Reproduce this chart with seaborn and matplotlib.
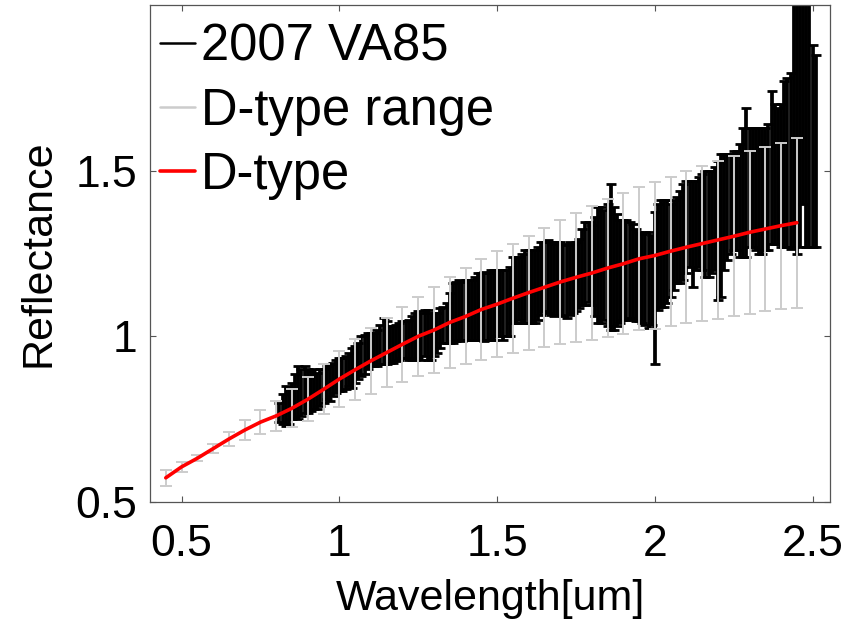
import matplotlib
matplotlib.use("Agg")
import matplotlib.pyplot as plt
from matplotlib.lines import Line2D
import numpy as np
import pandas as pd
import seaborn as sns

# ---------------- data ----------------
dtype_wave = [0.45, 0.50, 0.55, 0.60, 0.65, 0.70, 0.75, 0.80, 0.85, 0.90,
              0.95, 1.00, 1.05, 1.10, 1.15, 1.20, 1.25, 1.30, 1.35, 1.40,
              1.45, 1.50, 1.55, 1.60, 1.65, 1.70, 1.75, 1.80, 1.85, 1.90,
              1.95, 2.00, 2.05, 2.10, 2.15, 2.20, 2.25, 2.30, 2.35, 2.40,
              2.45]
dtype_mean = [0.573, 0.606, 0.632, 0.661, 0.690, 0.717, 0.741, 0.760, 0.783, 0.810,
              0.840, 0.871, 0.899, 0.926, 0.951, 0.976, 1.000, 1.019, 1.042, 1.060,
              1.081, 1.097, 1.115, 1.132, 1.148, 1.164, 1.178, 1.191, 1.206, 1.219,
              1.234, 1.244, 1.257, 1.269, 1.280, 1.291, 1.302, 1.314, 1.324, 1.334,
              1.343]
dtype_range = [0.025, 0.014, 0.009, 0.013, 0.021, 0.030, 0.037, 0.046, 0.057, 0.066,
               0.075, 0.085, 0.092, 0.099, 0.105, 0.114, 0.120, 0.130, 0.137, 0.145,
               0.153, 0.160, 0.165, 0.172, 0.180, 0.187, 0.195, 0.201, 0.208, 0.213,
               0.216, 0.221, 0.225, 0.229, 0.234, 0.239, 0.242, 0.246, 0.248, 0.251,
               0.257]

va85_wave = [0.81, 0.82, 0.83, 0.84, 0.85, 0.86, 0.87, 0.88, 0.89, 0.90,
             0.91, 0.92, 0.93, 0.94, 0.95, 0.96, 0.97, 0.98, 0.99, 1.00,
             1.01, 1.02, 1.03, 1.04, 1.05, 1.06, 1.07, 1.08, 1.09, 1.10,
             1.11, 1.12, 1.13, 1.14, 1.15, 1.16, 1.17, 1.18, 1.19, 1.20,
             1.21, 1.22, 1.23, 1.24, 1.25, 1.26, 1.27, 1.28, 1.29, 1.30,
             1.31, 1.32, 1.33, 1.34, 1.35, 1.36, 1.37, 1.38, 1.39, 1.40,
             1.41, 1.42, 1.43, 1.44, 1.45, 1.46, 1.47, 1.48, 1.49, 1.50,
             1.51, 1.52, 1.53, 1.54, 1.55, 1.56, 1.57, 1.58, 1.59, 1.60,
             1.61, 1.62, 1.63, 1.64, 1.65, 1.66, 1.67, 1.68, 1.69, 1.70,
             1.71, 1.72, 1.73, 1.74, 1.75, 1.76, 1.77, 1.78, 1.79, 1.80,
             1.81, 1.82, 1.83, 1.84, 1.85, 1.86, 1.87, 1.88, 1.89, 1.90,
             1.91, 1.92, 1.93, 1.94, 1.95, 1.96, 1.97, 1.98, 1.99, 2.00,
             2.01, 2.02, 2.03, 2.04, 2.05, 2.06, 2.07, 2.08, 2.09, 2.10,
             2.11, 2.12, 2.13, 2.14, 2.15, 2.16, 2.17, 2.18, 2.19, 2.20,
             2.21, 2.22, 2.23, 2.24, 2.25, 2.26, 2.27, 2.28, 2.29, 2.30,
             2.31, 2.32, 2.33, 2.34, 2.35, 2.36, 2.37, 2.38, 2.39, 2.40,
             2.41, 2.42, 2.43, 2.44, 2.45, 2.46, 2.47, 2.48, 2.49, 2.50,
             2.51]
va85_refl = [0.77, 0.78, 0.79, 0.79, 0.805, 0.82, 0.83, 0.83, 0.84, 0.835,
             0.835, 0.84, 0.835, 0.845, 0.85, 0.86, 0.86, 0.87, 0.88, 0.885,
             0.885, 0.89, 0.90, 0.905, 0.915, 0.925, 0.94, 0.945, 0.955, 0.96,
             0.96, 0.965, 0.975, 0.985, 0.98, 0.975, 0.975, 0.98, 0.985, 0.99,
             0.99, 0.99, 0.995, 1.0, 1.005, 1.0, 1.01, 1.005, 1.0, 1.005,
             1.01, 1.025, 1.035, 1.04, 1.055, 1.07, 1.075, 1.08, 1.075, 1.08,
             1.08, 1.08, 1.085, 1.09, 1.09, 1.09, 1.09, 1.095, 1.095, 1.10,
             1.10, 1.095, 1.10, 1.105, 1.14, 1.14, 1.145, 1.145, 1.15, 1.15,
             1.15, 1.15, 1.16, 1.175, 1.18, 1.18, 1.175, 1.17, 1.175, 1.175,
             1.17, 1.165, 1.175, 1.175, 1.18, 1.19, 1.21, 1.22, 1.225, 1.215,
             1.21, 1.215, 1.215, 1.215, 1.215, 1.24, 1.205, 1.20, 1.195, 1.20,
             1.20, 1.20, 1.195, 1.185, 1.18, 1.175, 1.175, 1.17, 1.17, 1.146,
             1.24, 1.25, 1.25, 1.255, 1.26, 1.275, 1.29, 1.30, 1.315, 1.33,
             1.34, 1.31, 1.335, 1.345, 1.345, 1.34, 1.34, 1.345, 1.355, 1.32,
             1.335, 1.375, 1.39, 1.40, 1.41, 1.41, 1.41, 1.435, 1.465, 1.45,
             1.45, 1.445, 1.44, 1.44, 1.445, 1.45, 1.51, 1.49, 1.485, 1.485,
             1.52, 1.525, 1.53, 1.66, 1.675, 1.66, 1.71, 1.685, 1.66, 1.575,
             1.56]
va85_err = [0.03, 0.045, 0.06, 0.055, 0.055, 0.065, 0.08, 0.07, 0.07, 0.065,
            0.06, 0.06, 0.055, 0.055, 0.05, 0.05, 0.055, 0.05, 0.05, 0.05,
            0.05, 0.05, 0.05, 0.06, 0.055, 0.055, 0.06, 0.06, 0.055, 0.05,
            0.05, 0.055, 0.06, 0.07, 0.065, 0.055, 0.055, 0.055, 0.055, 0.055,
            0.055, 0.06, 0.065, 0.07, 0.07, 0.07, 0.07, 0.075, 0.07, 0.065,
            0.06, 0.06, 0.055, 0.06, 0.075, 0.09, 0.09, 0.09, 0.09, 0.09,
            0.09, 0.09, 0.095, 0.10, 0.10, 0.105, 0.10, 0.105, 0.105, 0.10,
            0.10, 0.105, 0.10, 0.105, 0.10, 0.10, 0.095, 0.105, 0.11, 0.11,
            0.11, 0.11, 0.11, 0.11, 0.105, 0.11, 0.11, 0.11, 0.11, 0.11,
            0.11, 0.11, 0.11, 0.105, 0.105, 0.105, 0.115, 0.125, 0.12, 0.12,
            0.15, 0.175, 0.175, 0.165, 0.185, 0.22, 0.185, 0.17, 0.155, 0.15,
            0.15, 0.145, 0.145, 0.14, 0.135, 0.135, 0.14, 0.145, 0.135, 0.23,
            0.16, 0.16, 0.16, 0.155, 0.14, 0.135, 0.13, 0.14, 0.145, 0.14,
            0.13, 0.16, 0.135, 0.135, 0.145, 0.16, 0.16, 0.155, 0.155, 0.21,
            0.215, 0.175, 0.16, 0.15, 0.15, 0.15, 0.17, 0.195, 0.225, 0.18,
            0.18, 0.185, 0.19, 0.19, 0.185, 0.19, 0.23, 0.21, 0.205, 0.215,
            0.25, 0.255, 0.265, 0.39, 0.425, 0.39, 0.31, 0.415, 0.39, 0.305,
            0.29]

x_ticks = [0.5, 1.0, 1.5, 2.0, 2.5]
x_tick_labels = ["0.5", "1", "1.5", "2", "2.5"]
y_ticks = [0.5, 1.0, 1.5]
y_tick_labels = ["0.5", "1", "1.5"]
legend_labels = ["2007 VA85", "D-type range", "D-type"]

# ---------------- style ----------------
sns.set_theme(style="ticks")
plt.rcParams["font.family"] = ["Liberation Sans", "DejaVu Sans"]
plt.rcParams["text.color"] = "black"
plt.rcParams["axes.labelcolor"] = "black"
plt.rcParams["xtick.labelcolor"] = "black"
plt.rcParams["ytick.labelcolor"] = "black"

GRAY = "#cccccc"
SPINE = "#555555"

fig = plt.figure(figsize=(8.65, 6.21), dpi=100)
ax = fig.add_axes([150 / 865, 1 - 502 / 621, 680 / 865, 497 / 621])

va85 = pd.DataFrame({"wave": va85_wave, "refl": va85_refl, "err": va85_err})
dtype = pd.DataFrame({"wave": dtype_wave, "mean": dtype_mean, "rng": dtype_range})

# asteroid spectrum with error bars
ax.errorbar(va85["wave"], va85["refl"], yerr=va85["err"], fmt="none", ecolor="black",
            elinewidth=2.7, capsize=3.6, capthick=2.0, zorder=2)
# D-type range
ax.errorbar(dtype["wave"], dtype["mean"], yerr=dtype["rng"], fmt="none", ecolor=GRAY,
            elinewidth=1.4, capsize=4.0, capthick=1.4, zorder=3)
# D-type mean
sns.lineplot(data=dtype, x="wave", y="mean", color="red", lw=2.6, ax=ax, zorder=4)

ax.set_xlim(0.4, 2.555)
ax.set_ylim(0.5, 2.0)
ax.set_xticks(x_ticks)
ax.set_xticklabels(x_tick_labels)
ax.set_yticks(y_ticks)
ax.set_yticklabels(y_tick_labels)
ax.set_xlabel("Wavelength[um]", fontsize=31, labelpad=10)
ax.set_ylabel("Reflectance", fontsize=31, labelpad=12)

ax.tick_params(axis="both", which="both", direction="in", length=4, width=0.8,
               color=SPINE, labelsize=32, top=True, right=True)
ax.tick_params(axis="x", pad=16)
ax.tick_params(axis="y", pad=9)
for s in ax.spines.values():
    s.set_visible(True)
    s.set_color(SPINE)
    s.set_linewidth(0.9)

handles = [Line2D([], [], color="black", lw=1.8),
           Line2D([], [], color=GRAY, lw=1.8),
           Line2D([], [], color="red", lw=2.6)]
ax.legend(handles, legend_labels, loc="upper left", frameon=False, fontsize=36.5,
          handlelength=0.68, handletextpad=0.12, labelspacing=0.30,
          borderaxespad=0.0, bbox_to_anchor=(-0.015, 1.005))

fig.savefig("out.png", dpi=100)
